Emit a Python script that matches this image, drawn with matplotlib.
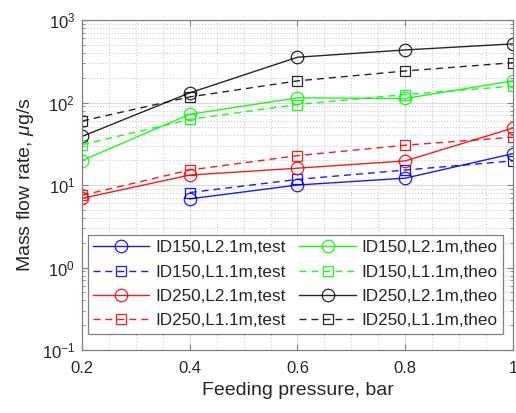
import matplotlib
matplotlib.use("Agg")
import matplotlib.pyplot as plt
from matplotlib.ticker import LogLocator, MultipleLocator, NullFormatter

plt.rcParams['font.family'] = ['Liberation Sans', 'DejaVu Sans']
plt.rcParams['mathtext.fontset'] = 'custom'
plt.rcParams['mathtext.rm'] = 'Liberation Sans'
plt.rcParams['mathtext.it'] = 'Liberation Sans:italic'

pressure = [0.2, 0.4, 0.6, 0.8, 1.0]

series_labels = [
    "ID150,L2.1m,test", "ID150,L1.1m,test", "ID250,L2.1m,test", "ID250,L1.1m,test",
    "ID150,L2.1m,theo", "ID150,L1.1m,theo", "ID250,L2.1m,theo", "ID250,L1.1m,theo",
]

id150_l21_test = [None, 6.8, 10.0, 12.1, 24.0]
id150_l11_test = [None, 8.1, 11.7, 15.2, 19.6]
id250_l21_test = [6.9, 13.2, 16.0, 19.6, 49.0]
id250_l11_test = [7.5, 15.2, 22.7, 30.4, 38.0]
id150_l21_theo = [19.8, 72.0, 114.0, 112.0, 183.0]
id150_l11_theo = [30.8, 62.5, 94.6, 125.0, 158.0]
id250_l21_theo = [38.8, 131.0, 354.0, 434.0, 514.0]
id250_l11_theo = [59.7, 117.0, 183.0, 241.0, 304.0]

all_series = [id150_l21_test, id150_l11_test, id250_l21_test, id250_l11_test,
              id150_l21_theo, id150_l11_theo, id250_l21_theo, id250_l11_theo]
colors = ['#0000ff', '#0000ff', '#ff0000', '#ff0000',
          '#00ff00', '#00ff00', '#000000', '#000000']
markers = ['o', 's', 'o', 's', 'o', 's', 'o', 's']
dashed = [False, True, False, True, False, True, False, True]

fig = plt.figure(figsize=(5.16, 4.13), dpi=100)
ax = fig.add_axes([0.159, 0.1525, 0.835, 0.799])

for vals, lab, c, m, d in zip(all_series, series_labels, colors, markers, dashed):
    xs = [x for x, v in zip(pressure, vals) if v is not None]
    ys = [v for v in vals if v is not None]
    ms = 9 if m == 'o' else 7.5
    line, = ax.plot(xs, ys, color=c, marker=m, markersize=ms, markerfacecolor='none',
                    markeredgecolor=c, markeredgewidth=0.9, linewidth=1.0, label=lab,
                    alpha=0.85 if c == '#000000' else 0.9)
    if d:
        line.set_dashes([5, 3.6])

ax.set_yscale('log')
ax.set_xlim(0.2, 1.0)
ax.set_ylim(0.1, 1000)
ax.set_xticks([0.2, 0.4, 0.6, 0.8, 1.0])
ax.set_xticklabels(['0.2', '0.4', '0.6', '0.8', '1'])
ax.xaxis.set_minor_locator(MultipleLocator(0.05))
ax.yaxis.set_major_locator(LogLocator(base=10, numticks=10))
ax.yaxis.set_minor_locator(LogLocator(base=10, subs=range(2, 10), numticks=20))
ax.yaxis.set_minor_formatter(NullFormatter())

ax.grid(True, which='major', color='#dcdcdc', linewidth=0.8, linestyle='-')
ax.grid(True, which='minor', color='#c8c8c8', linewidth=0.7, linestyle=(0, (1, 2)))
ax.set_axisbelow(True)

for s in ax.spines.values():
    s.set_color('#808080')
    s.set_linewidth(0.9)
ax.tick_params(which='both', direction='in', top=True, right=True, colors='#808080',
               labelcolor='#262626', labelsize=12)
ax.tick_params(which='major', length=4)
ax.tick_params(which='minor', length=2)
ax.tick_params(axis='x', which='minor', length=0)
ax.tick_params(axis='x', pad=8)
ax.tick_params(axis='y', pad=5)

ax.set_xlabel('Feeding pressure, bar', fontsize=14, color='#262626', labelpad=4)
ax.set_ylabel(r'Mass flow rate, $\mu$g/s', fontsize=14, color='#262626', labelpad=4)

leg = ax.legend(ncol=2, loc='lower center', bbox_to_anchor=(0.495, 0.05),
                fontsize=12.3, frameon=True, fancybox=False, edgecolor='#808080',
                framealpha=1.0, handlelength=3.3, handletextpad=0.35,
                columnspacing=0.8, labelspacing=0.55, borderpad=0.3, borderaxespad=0)
leg.get_frame().set_linewidth(0.9)
for t in leg.get_texts():
    t.set_color('#262626')

fig.savefig('out.png', dpi=100)
